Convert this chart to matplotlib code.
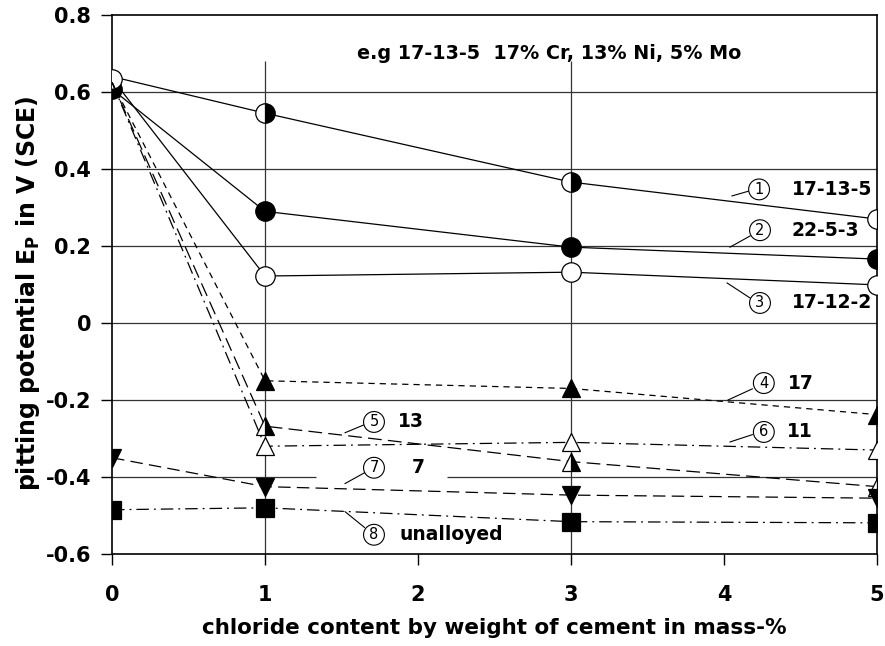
import matplotlib
matplotlib.use("Agg")
import matplotlib.pyplot as plt

plt.rcParams['font.family'] = ['DejaVu Sans']
plt.rcParams['mathtext.fontset'] = 'custom'
plt.rcParams['mathtext.rm'] = 'DejaVu Sans:bold'
plt.rcParams['mathtext.bf'] = 'DejaVu Sans:bold'

# chloride content (mass-% of cement)
chloride = [0, 1, 3, 5]

# pitting potential E_P in V (SCE) for each steel
ep_17_13_5 = [0.640, 0.545, 0.366, 0.270]
ep_22_5_3 = [0.607, 0.290, 0.197, 0.166]
ep_17_12_2 = [0.635, 0.122, 0.132, 0.099]
ep_17 = [0.625, -0.150, -0.170, -0.238]
ep_13 = [0.625, -0.268, -0.360, -0.425]
ep_11 = [0.625, -0.320, -0.310, -0.330]
ep_7 = [-0.350, -0.425, -0.447, -0.455]
ep_unalloyed = [-0.485, -0.480, -0.516, -0.519]

series_numbers = ['1', '2', '3', '4', '5', '6', '7', '8']
series_names = ['17-13-5', '22-5-3', '17-12-2', '17', '13', '11', '7', 'unalloyed']

x_ticks = [0, 1, 2, 3, 4, 5]
y_ticks = [-0.6, -0.4, -0.2, 0, 0.2, 0.4, 0.6, 0.8]
y_tick_labels = ['-0.6', '-0.4', '-0.2', '0', '0.2', '0.4', '0.6', '0.8']

fig = plt.figure(figsize=(8.85, 6.46), dpi=100)
ax = fig.add_axes([0.1266, 0.1424, 0.8644, 0.8344])
ax.set_xlim(0, 5)
ax.set_ylim(-0.6, 0.8)

# grid: horizontal lines, the -0.4 line is broken around the "7" label
gc = '#333333'
for yv in [0.6, 0.4, 0.2, 0.0, -0.2]:
    ax.axhline(yv, color=gc, lw=0.9, zorder=1)
ax.hlines(-0.4, 0, 1.33, color=gc, lw=0.9, zorder=1)
ax.hlines(-0.4, 2.19, 5, color=gc, lw=0.9, zorder=1)
# vertical guide lines at measured chloride contents
ax.vlines([1, 3], -0.6, 0.68, color=gc, lw=0.9, zorder=1)

lw = 0.9
k = 'black'
common = dict(color=k, lw=lw, markeredgecolor=k, markeredgewidth=0.9, zorder=3)

ax.plot(chloride, ep_17_13_5, '-', marker='o', ms=14, markevery=[1, 2, 3],
        fillstyle='right', markerfacecolor=k, markerfacecoloralt='white', **common)
ax.plot(chloride, ep_22_5_3, '-', marker='o', ms=14, markerfacecolor=k, **common)
ax.plot(chloride, ep_17_12_2, '-', marker='o', ms=14, markerfacecolor='white', **common)
ax.plot(chloride, ep_17, marker='^', ms=13, markevery=[1, 2, 3], markerfacecolor=k,
        dashes=(5, 4), **common)
ax.plot(chloride, ep_13, marker='^', ms=13, markevery=[1, 2, 3],
        fillstyle='right', markerfacecolor=k, markerfacecoloralt='white',
        dashes=(11, 5), **common)
ax.plot(chloride, ep_11, marker='^', ms=13, markevery=[1, 2, 3], markerfacecolor='white',
        dashes=(10, 4, 1.5, 4), **common)
ax.plot(chloride, ep_7, marker='v', ms=13, markerfacecolor=k, dashes=(10, 5), **common)
ax.plot(chloride, ep_unalloyed, marker='s', ms=13, markerfacecolor=k,
        dashes=(10, 4, 1.5, 4), **common)

# labels with circled numbers and leader lines
label_pos = [
    (4.229, 0.347, 4.444, (4.052, 0.330), (4.165, 0.343)),
    (4.235, 0.241, 4.438, (4.039, 0.197), (4.170, 0.226)),
    (4.235, 0.052, 4.444, (4.020, 0.104), (4.170, 0.065)),
    (4.260, -0.156, 4.418, (4.026, -0.200), (4.185, -0.171)),
    (1.712, -0.257, 1.869, (1.523, -0.285), (1.650, -0.264)),
    (4.260, -0.283, 4.410, (4.039, -0.309), (4.185, -0.290)),
    (1.712, -0.376, 1.960, (1.523, -0.417), (1.650, -0.389)),
    (1.712, -0.550, 1.880, (1.523, -0.490), (1.650, -0.531)),
]
for num, name, (cx, cy, tx, p0, p1) in zip(series_numbers, series_names, label_pos):
    ax.plot([p0[0], p1[0]], [p0[1], p1[1]], color=k, lw=0.8, zorder=4)
    ax.text(cx, cy, num, ha='center', va='center', fontsize=10.5,
            family='DejaVu Sans', zorder=5,
            bbox=dict(boxstyle='circle,pad=0.2', fc='white', ec=k, lw=0.8))
    ax.text(tx, cy, name, ha='left', va='center', fontsize=13.5,
            fontweight='bold', zorder=5)

ax.text(2.86, 0.700, 'e.g 17-13-5  17% Cr, 13% Ni, 5% Mo', ha='center', va='center',
        fontsize=13.8, fontweight='bold')

for s in ax.spines.values():
    s.set_linewidth(1.2)
    s.set_color(k)

ax.set_xticks(x_ticks)
ax.set_xticklabels([str(v) for v in x_ticks])
ax.set_yticks(y_ticks)
ax.set_yticklabels(y_tick_labels)
ax.tick_params(direction='out', length=8, width=1.0, labelsize=15)
ax.tick_params(axis='x', pad=14)
ax.tick_params(axis='y', pad=7)
for lab in ax.get_xticklabels() + ax.get_yticklabels():
    lab.set_fontweight('bold')

ax.set_xlabel('chloride content by weight of cement in mass-%', fontsize=15.5,
              fontweight='bold')
ax.set_ylabel(r'pitting potential E$_{\mathrm{P}}$ in V (SCE)', fontsize=17,
              fontweight='bold')
ax.xaxis.set_label_coords(0.5, -0.118)
ax.yaxis.set_label_coords(-0.092, 0.484)

fig.savefig('out.png', dpi=100)
